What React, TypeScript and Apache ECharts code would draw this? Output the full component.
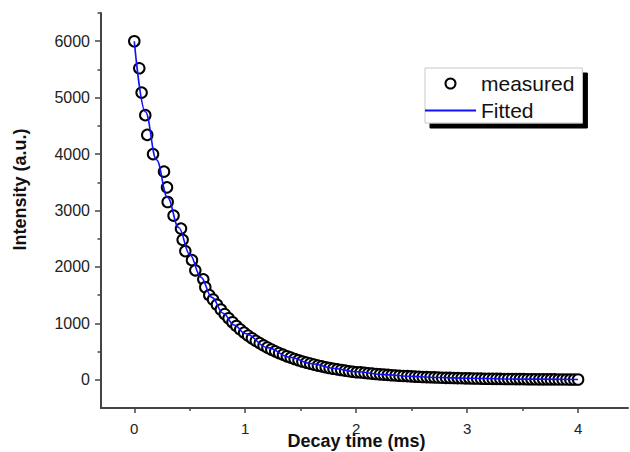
import React, { useEffect, useRef } from "react";
import * as echarts from "echarts";

// Measured decay data (time in ms, intensity in a.u.)
const measuredTime = [
  0, 0.045, 0.066, 0.099, 0.117, 0.169, 0.268, 0.295, 0.301, 0.354, 0.421, 0.436, 0.46, 0.52, 0.55, 0.622, 0.64, 0.676,
  0.71, 0.745, 0.78, 0.815, 0.85, 0.885, 0.92, 0.955, 0.99, 1.025, 1.06, 1.095, 1.13, 1.165, 1.2, 1.235, 1.27, 1.305,
  1.34, 1.375, 1.41, 1.445, 1.48, 1.515, 1.55, 1.585, 1.62, 1.655, 1.69, 1.725, 1.76, 1.795, 1.83, 1.865, 1.9, 1.935,
  1.97, 2.005, 2.04, 2.075, 2.11, 2.145, 2.18, 2.215, 2.25, 2.285, 2.32, 2.355, 2.39, 2.425, 2.46, 2.495, 2.53, 2.565,
  2.6, 2.635, 2.67, 2.705, 2.74, 2.775, 2.81, 2.845, 2.88, 2.915, 2.95, 2.985, 3.02, 3.055, 3.09, 3.125, 3.16, 3.195,
  3.23, 3.265, 3.3, 3.335, 3.37, 3.405, 3.44, 3.475, 3.51, 3.545, 3.58, 3.615, 3.65, 3.685, 3.72, 3.755, 3.79, 3.825,
  3.86, 3.895, 3.93, 3.965, 4.0,
];
const measuredIntensity = [
  6000, 5520, 5090, 4690, 4340, 4000, 3690, 3410, 3150, 2910, 2680, 2480, 2280, 2120, 1940, 1780, 1640, 1500,
  1423, 1331, 1245, 1165, 1090, 1020, 954, 893, 836, 784, 736, 691, 649, 609, 572, 537, 504, 474,
  445, 417, 392, 368, 346, 324, 305, 286, 269, 252, 237, 222, 209, 196, 184, 173, 162, 152,
  143, 134, 131, 123, 116, 109, 103, 97, 92, 86, 81, 77, 72, 68, 64, 60, 57, 54,
  50, 48, 45, 42, 40, 37, 35, 33, 31, 30, 28, 26, 25, 23, 22, 21, 19, 18,
  17, 16, 15, 14, 14, 13, 12, 11, 11, 10, 10, 9, 8, 8, 8, 7, 7, 6,
  6, 6, 5, 5, 5,
];

// Fitted curve
const fittedTime = [0, 0.1, 0.2, 0.3, 0.4, 0.5, 0.6, 0.7, 0.8, 0.9, 1.0, 1.2, 1.4, 1.6, 1.8, 2.0, 2.25, 2.5, 2.75, 3.0, 3.5, 4.0];
const fittedIntensity = [6000, 4750, 3900, 3230, 2700, 2220, 1820, 1460, 1180, 970, 820, 570, 400, 285, 200, 142, 92, 60, 40, 26, 12, 5];

// Tick positions
const xMajorTicks = [0, 1, 2, 3, 4];
const xMinorTicks = [0.5, 1.5, 2.5, 3.5];
const yMajorTicks = [0, 1000, 2000, 3000, 4000, 5000, 6000];
const yMinorTicks = [500, 1500, 2500, 3500, 4500, 5500, 6500];

const seriesNames = ["measured", "Fitted"];

const FONT = "'Liberation Sans', Arial, Helvetica, sans-serif";

export default function App() {
  const ref = useRef<HTMLDivElement>(null);

  useEffect(() => {
    if (!ref.current) return;
    const chart = echarts.init(ref.current, undefined, { renderer: "svg" });

    const axisColor = "#444";
    const xMin = -0.3;
    const xMax = 4.45;
    const yMin = -500;
    const yMax = 6500;

    chart.setOption({
      animation: false,
      backgroundColor: "#ffffff",
      grid: {
        left: 101,
        right: 2,
        top: 13,
        bottom: 44,
        containLabel: false,
        outerBoundsMode: "none",
      },
      legend: {
        orient: "vertical",
        left: 425,
        top: 68,
        data: [
          { name: seriesNames[0] },
          { name: seriesNames[1], icon: "path://M0,0L51,0L51,1.8L0,1.8Z" },
        ],
        itemWidth: 51,
        itemHeight: 10,
        itemGap: 6,
        padding: [5, 8, 2, 0],
        backgroundColor: "#ffffff",
        borderColor: "#c8c8c8",
        borderWidth: 1,
        shadowColor: "#000000",
        shadowBlur: 0,
        shadowOffsetX: 5,
        shadowOffsetY: 5,
        textStyle: { fontSize: 21, lineHeight: 21, color: "#111", fontFamily: FONT },
      },
      xAxis: [
        {
          type: "value",
          min: xMin,
          max: xMax,
          position: "bottom",
          name: "Decay time (ms)",
          nameLocation: "middle",
          nameGap: 24,
          nameMoveOverlap: false,
          nameTextStyle: {
            fontSize: 18,
            fontWeight: "bold",
            color: "#111",
            fontFamily: FONT,
            padding: [0, 16, 0, 0],
          },
          axisLine: { show: true, onZero: false, lineStyle: { color: axisColor, width: 2 } },
          axisTick: { show: true, customValues: xMajorTicks, length: 5, lineStyle: { color: axisColor, width: 1.5 } },
          axisLabel: { customValues: xMajorTicks, fontSize: 15, color: "#222", margin: 13, fontFamily: FONT },
          splitLine: { show: false },
        },
        {
          type: "value",
          min: xMin,
          max: xMax,
          position: "bottom",
          axisLine: { show: false, onZero: false },
          axisTick: { show: true, customValues: xMinorTicks, length: 3, lineStyle: { color: axisColor, width: 1.5 } },
          axisLabel: { show: false },
          splitLine: { show: false },
        },
      ],
      yAxis: [
        {
          type: "value",
          min: yMin,
          max: yMax,
          position: "left",
          name: "Intensity (a.u.)",
          nameLocation: "middle",
          nameGap: 72,
          nameMoveOverlap: false,
          nameTextStyle: {
            fontSize: 18,
            fontWeight: "bold",
            color: "#111",
            fontFamily: FONT,
            padding: [0, 0, 0, 42],
          },
          axisLine: { show: true, onZero: false, lineStyle: { color: axisColor, width: 2 } },
          axisTick: { show: true, customValues: yMajorTicks, length: 6, lineStyle: { color: axisColor, width: 1.5 } },
          axisLabel: {
            customValues: yMajorTicks,
            fontSize: 16,
            color: "#222",
            margin: 11,
            fontFamily: FONT,
            formatter: (v: number) => String(v),
          },
          splitLine: { show: false },
        },
        {
          type: "value",
          min: yMin,
          max: yMax,
          position: "left",
          offset: 0,
          axisLine: { show: false, onZero: false },
          axisTick: { show: true, customValues: yMinorTicks, length: 3.5, lineStyle: { color: axisColor, width: 1.5 } },
          axisLabel: { show: false },
          splitLine: { show: false },
        },
      ],
      series: [
        {
          name: seriesNames[0],
          type: "scatter",
          xAxisIndex: 0,
          yAxisIndex: 0,
          symbol: "circle",
          symbolSize: 10.5,
          itemStyle: { color: "#ffffff", borderColor: "#000", borderWidth: 2, opacity: 1 },
          data: measuredTime.map((t, i) => [t, measuredIntensity[i]]),
          z: 2,
        },
        {
          name: seriesNames[1],
          type: "line",
          xAxisIndex: 0,
          yAxisIndex: 0,
          symbol: "none",
          smooth: 0.4,
          smoothMonotone: "x",
          lineStyle: { color: "#1010ff", width: 1.6 },
          itemStyle: { color: "#1010ff" },
          data: fittedTime.map((t, i) => [t, fittedIntensity[i]]),
          z: 3,
        },
      ],
    });

    return () => {
      chart.dispose();
    };
  }, []);

  return (
    <div
      ref={ref}
      style={{ position: "fixed", left: 0, top: 0, width: 630, height: 452, background: "#fff" }}
    />
  );
}
